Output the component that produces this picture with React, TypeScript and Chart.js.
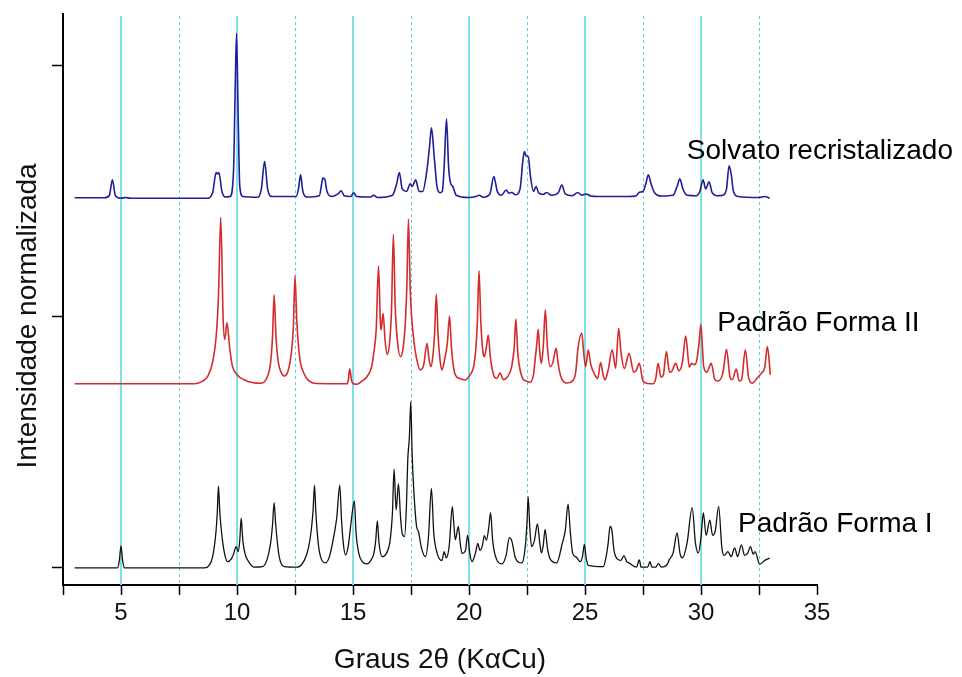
import React, { useEffect, useRef } from 'react';
import { Chart, registerables } from 'chart.js';

Chart.register(...registerables);

// ---- axis definitions ----
const X_MIN = 2.5;
const X_MAX = 35;
const xTickStep = 2.5;
const xLabeledTicks = [5, 10, 15, 20, 25, 30, 35];
const solidGridAt = [5, 10, 15, 20, 25, 30];
const dashedGridAt = [7.5, 12.5, 17.5, 22.5, 27.5, 32.5];
const Y_MIN = -6.8;
const Y_MAX = 220.7;
const yTicks = [0, 100, 200];

const xTitle = 'Graus 2θ (KαCu)';
const yTitle = 'Intensidade normalizada';
const seriesNames = ['Solvato recristalizado', 'Padrão Forma II', 'Padrão Forma I'];

// ---- series (2θ, stacked intensity) ----
const solvato: [number, number][] = [
  [3.0, 147.5], [4.3, 147.5], [4.5, 148.5], [4.63, 154.6], [4.76, 148.3], [5.0, 147.3], [5.2, 147.6], [5.4, 147.3],
  [8.7, 147.3], [8.95, 149.5], [9.1, 157.5], [9.16, 157], [9.22, 157.5], [9.35, 150], [9.5, 147.8], [9.7, 148],
  [9.85, 158], [9.92, 190], [9.98, 213], [10.05, 180], [10.12, 152], [10.25, 148], [10.9, 147.7], [11.05, 151],
  [11.19, 162], [11.32, 151], [11.5, 148], [12.55, 148], [12.65, 151], [12.74, 156.6], [12.84, 150], [13.0, 147.8],
  [13.55, 148.3], [13.65, 153], [13.7, 155.3], [13.78, 155], [13.88, 150], [14.1, 148], [14.35, 149], [14.49, 150.3],
  [14.62, 148.3], [14.9, 148], [15.03, 149.5], [15.15, 148], [15.75, 147.8], [15.9, 148.5], [16.05, 147.6],
  [16.7, 148.5], [16.88, 153], [17.0, 157.5], [17.12, 151], [17.3, 150], [17.47, 153], [17.55, 152], [17.7, 154.6],
  [17.85, 150], [18.0, 150], [18.18, 158], [18.3, 168], [18.38, 175.4], [18.5, 164], [18.62, 152], [18.75, 149.5],
  [18.85, 150], [18.93, 160], [19.03, 178.9], [19.12, 160], [19.2, 153.5], [19.3, 152], [19.45, 148.5], [20.0, 147.6],
  [20.3, 148], [20.44, 148.5], [20.6, 147.7], [20.9, 149], [21.07, 155.9], [21.22, 150], [21.4, 148.5], [21.6, 150.6],
  [21.72, 149.3], [21.85, 149.6], [22.0, 148.7], [22.2, 151], [22.33, 163], [22.39, 165.9], [22.47, 164], [22.55, 163.9],
  [22.65, 156], [22.78, 150], [22.89, 152], [23.0, 149.5], [23.2, 148.8], [23.35, 149.6], [23.55, 148.5], [23.85, 149.5],
  [24.0, 152.5], [24.15, 149], [24.45, 148.3], [24.69, 149.6], [24.85, 148.5], [25.04, 149], [25.25, 148.2], [25.56, 148],
  [26.85, 148], [27.2, 148.2], [27.34, 149.7], [27.5, 150], [27.62, 153], [27.73, 156.6], [27.85, 153], [28.0, 149.5],
  [28.3, 148.2], [28.8, 148.5], [28.97, 152], [29.09, 155], [29.22, 151], [29.4, 148.5], [29.8, 148.3], [29.95, 150],
  [30.09, 154.6], [30.2, 151], [30.35, 153.8], [30.48, 149.5], [30.7, 148.3], [30.95, 148.5], [31.1, 151], [31.21, 160.2],
  [31.3, 157], [31.4, 150], [31.6, 148], [32.5, 147.6], [32.75, 148], [32.96, 147.3],
];

const formaII: [number, number][] = [
  [3.0, 73.4], [8.2, 73.4], [8.5, 74.3], [8.75, 76.5], [8.95, 82], [9.1, 92], [9.2, 108], [9.3, 139.7], [9.4, 100],
  [9.47, 91], [9.57, 97.7], [9.68, 88], [9.8, 80.5], [10.0, 77], [10.3, 75], [10.7, 73.8], [11.0, 73.6], [11.3, 76],
  [11.45, 82], [11.53, 92], [11.6, 108.8], [11.68, 92], [11.78, 82], [11.9, 78], [12.03, 76.5], [12.2, 78.5],
  [12.34, 85.5], [12.43, 96], [12.5, 116.3], [12.58, 98], [12.7, 84], [12.88, 77.6], [13.1, 74.5], [13.4, 73.5],
  [14.75, 73.4], [14.8, 75], [14.86, 79.3], [14.93, 75], [15.0, 73.5], [15.18, 73.2], [15.4, 74.5], [15.6, 76.2],
  [15.8, 80], [15.9, 86], [16.0, 95], [16.1, 120.3], [16.18, 98], [16.21, 94.8], [16.3, 101.5], [16.38, 91],
  [16.47, 85], [16.58, 90], [16.66, 103], [16.74, 132.9], [16.82, 104], [16.92, 90], [17.04, 84.2], [17.15, 87],
  [17.25, 97], [17.32, 112], [17.39, 139], [17.47, 110], [17.62, 90.8], [17.75, 83], [17.9, 78.9], [18.05, 81],
  [18.19, 89.5], [18.28, 83], [18.36, 80.2], [18.45, 85], [18.52, 94], [18.59, 109], [18.67, 92], [18.75, 83],
  [18.83, 78.9], [18.95, 83], [19.07, 90], [19.16, 100.4], [19.25, 87], [19.41, 76.9], [19.6, 75.5], [19.84, 74.9],
  [20.05, 77], [20.2, 80.2], [20.3, 88], [20.36, 98], [20.43, 118.4], [20.51, 98], [20.6, 86], [20.66, 84.2],
  [20.75, 88], [20.83, 92.8], [20.92, 84], [21.06, 76.9], [21.2, 75.5], [21.34, 77.6], [21.48, 75], [21.65, 76],
  [21.84, 80.2], [21.95, 88], [22.02, 99.2], [22.1, 86], [22.28, 76.2], [22.45, 74.5], [22.63, 74], [22.78, 77],
  [22.85, 82.9], [22.93, 90], [22.98, 95.1], [23.05, 86], [23.12, 81.5], [23.2, 88], [23.29, 102.8], [23.38, 88],
  [23.5, 80.2], [23.62, 82], [23.75, 87.5], [23.85, 81], [23.96, 76.2], [24.21, 73.7], [24.5, 74.9], [24.6, 78],
  [24.69, 86.9], [24.86, 93.5], [24.95, 85], [25.03, 80.2], [25.14, 86.9], [25.25, 81], [25.43, 76.9], [25.55, 75.5],
  [25.67, 81.8], [25.78, 77], [25.86, 74.9], [26.0, 78.9], [26.17, 86.9], [26.32, 79.6], [26.45, 95.5], [26.55, 86],
  [26.7, 79.5], [26.9, 85.5], [27.1, 78], [27.2, 78.5], [27.34, 81.5], [27.5, 74.5], [27.7, 73.5], [27.94, 73.4],
  [28.05, 75.5], [28.15, 81.5], [28.28, 76], [28.38, 77], [28.51, 86.2], [28.64, 78], [28.75, 78.5], [28.91, 81.5],
  [29.05, 78.5], [29.2, 82], [29.34, 92.4], [29.5, 80], [29.6, 81.5], [29.7, 81], [29.8, 82], [29.92, 90],
  [29.99, 97.1], [30.12, 80], [30.25, 78], [30.44, 81.5], [30.6, 75], [30.75, 74.5], [30.95, 78], [31.1, 87.1],
  [31.25, 76], [31.35, 75], [31.52, 79.2], [31.65, 74.5], [31.75, 75], [31.91, 86.9], [32.05, 76], [32.2, 73.6],
  [32.45, 76], [32.6, 77.5], [32.75, 80], [32.86, 88.2], [32.99, 76.9],
];

const formaI: [number, number][] = [
  [3.0, 0], [4.85, 0], [4.93, 3], [5.0, 8.8], [5.07, 3], [5.15, 0], [8.6, 0], [8.8, 1], [8.95, 4.5], [9.09, 14],
  [9.15, 22], [9.2, 32.7], [9.26, 22], [9.37, 11.2], [9.48, 5], [9.59, 2.5], [9.75, 3.5], [9.85, 5.5], [9.96, 8.5],
  [10.05, 6.5], [10.12, 11], [10.18, 19.8], [10.25, 11], [10.35, 5.5], [10.5, 2.5], [10.74, 0.3], [11.1, 0.5],
  [11.3, 3.5], [11.45, 10], [11.53, 17], [11.6, 26], [11.67, 17], [11.81, 5], [12.03, 0.5], [12.6, 0.3], [12.9, 3],
  [13.08, 8], [13.2, 15], [13.28, 23], [13.34, 33], [13.4, 22], [13.5, 10], [13.6, 4.5], [13.82, 2], [14.0, 5],
  [14.17, 12.5], [14.3, 20], [14.43, 33], [14.5, 20], [14.58, 10], [14.68, 5.2], [14.8, 9], [14.92, 18.4],
  [15.06, 26.7], [15.13, 14], [15.25, 5.8], [15.4, 2.5], [15.61, 1.6], [15.8, 3.5], [15.9, 5.8], [15.98, 11],
  [16.05, 18.7], [16.12, 10], [16.26, 4.5], [16.45, 6], [16.6, 11], [16.7, 22], [16.77, 39.4], [16.86, 23.1],
  [16.96, 33.5], [17.05, 20], [17.12, 13.8], [17.22, 12.5], [17.3, 24], [17.36, 43], [17.43, 52], [17.49, 66.3],
  [17.55, 45], [17.62, 31], [17.74, 16.5], [17.82, 14.5], [17.95, 8], [18.12, 4.5], [18.25, 12], [18.38, 31.7],
  [18.48, 14], [18.63, 5.8], [18.83, 2.9], [18.93, 6.5], [19.02, 4], [19.15, 9], [19.28, 24.4], [19.35, 17],
  [19.41, 11.2], [19.54, 16.5], [19.62, 10], [19.7, 5.8], [19.85, 7], [19.94, 13.1], [20.03, 6], [20.13, 2.5],
  [20.28, 6], [20.38, 9.8], [20.47, 7], [20.58, 9], [20.66, 12.9], [20.75, 11], [20.85, 16], [20.93, 22],
  [21.02, 11], [21.13, 5], [21.42, 1.6], [21.6, 5], [21.74, 12.1], [21.85, 10.6], [22.0, 4], [22.28, 2], [22.42, 8],
  [22.5, 18], [22.55, 28.4], [22.62, 16], [22.7, 8.5], [22.82, 11], [22.95, 17.5], [23.05, 10], [23.12, 6], [23.2, 9],
  [23.28, 15.4], [23.38, 8], [23.5, 3.5], [23.78, 2], [24.02, 9.8], [24.15, 15], [24.27, 25.4], [24.37, 14],
  [24.47, 5.8], [24.6, 4.5], [24.81, 2.5], [24.9, 5], [24.97, 9.4], [25.05, 4], [25.14, 1], [25.79, 0.5], [25.92, 5],
  [26.0, 10], [26.08, 16.5], [26.16, 15], [26.25, 7], [26.4, 3.5], [26.55, 3], [26.68, 4.9], [26.8, 2.5], [26.9, 2],
  [27.22, 0.3], [27.34, 3.2], [27.42, 0.3], [27.7, 0.3], [27.8, 2.5], [27.88, 0.3], [28.05, 0.3], [28.16, 1.7],
  [28.3, 0.3], [28.55, 1.5], [28.63, 3.2], [28.8, 6], [28.97, 14], [29.1, 5.5], [29.2, 4], [29.4, 10], [29.62, 24],
  [29.76, 10], [29.88, 6], [30.0, 12], [30.1, 22], [30.22, 13], [30.38, 19], [30.5, 13], [30.62, 15], [30.76, 24.5],
  [30.9, 8], [31.0, 5], [31.16, 6.5], [31.3, 4.5], [31.45, 8], [31.58, 4.5], [31.74, 9.2], [31.88, 5], [32.02, 6],
  [32.13, 8.5], [32.25, 5.5], [32.33, 6.5], [32.53, 1.5], [32.75, 3], [32.96, 3.9],
];

// label anchors (left edge, text baseline) in data coordinates
const labelAnchors: [number, number][] = [
  [29.39, 162.9],
  [30.7, 94.4],
  [31.6, 14.5],
];
// y-title centre (data coordinates along the axis)
const yTitleCenter = 100.4;

const FONT = "'Liberation Sans', Arial, Helvetica, sans-serif";

const overlayPlugin = {
  id: 'overlay',
  beforeDatasetsDraw(chart: any) {
    const { ctx, chartArea, scales } = chart;
    const x = scales.x;
    ctx.save();
    ctx.strokeStyle = '#80e0e8';
    ctx.lineWidth = 2;
    ctx.setLineDash([]);
    solidGridAt.forEach((v) => {
      const px = Math.round(x.getPixelForValue(v));
      ctx.beginPath();
      ctx.moveTo(px, chartArea.top + 2);
      ctx.lineTo(px, chartArea.bottom);
      ctx.stroke();
    });
    ctx.strokeStyle = '#62cfe0';
    ctx.lineWidth = 1;
    ctx.setLineDash([3, 3]);
    dashedGridAt.forEach((v) => {
      const px = Math.round(x.getPixelForValue(v)) + 0.5;
      ctx.beginPath();
      ctx.moveTo(px, chartArea.top + 2);
      ctx.lineTo(px, chartArea.bottom);
      ctx.stroke();
    });
    ctx.restore();
  },
  afterDatasetsDraw(chart: any) {
    const { ctx, scales } = chart;
    ctx.save();
    ctx.fillStyle = '#000';
    ctx.font = `28px ${FONT}`;
    ctx.textBaseline = 'alphabetic';
    ctx.textAlign = 'left';
    seriesNames.forEach((name, i) => {
      const [lx, ly] = labelAnchors[i];
      ctx.fillText(name, scales.x.getPixelForValue(lx), scales.y.getPixelForValue(ly));
    });
    // y axis title
    ctx.translate(28, scales.y.getPixelForValue(yTitleCenter));
    ctx.rotate(-Math.PI / 2);
    ctx.textAlign = 'center';
    ctx.textBaseline = 'middle';
    ctx.fillStyle = '#111';
    ctx.fillText(yTitle, 0, 0);
    ctx.restore();
  },
};

export default function App() {
  const ref = useRef<HTMLCanvasElement | null>(null);

  useEffect(() => {
    if (!ref.current) return;
    const mk = (pts: [number, number][]) => pts.map(([x, y]) => ({ x, y }));
    const chart = new Chart(ref.current, {
      type: 'line',
      data: {
        datasets: [
          {
            label: seriesNames[0],
            data: mk(solvato),
            borderColor: '#1e1e96',
            borderWidth: 1.6,
            pointRadius: 0,
            cubicInterpolationMode: 'monotone',
          },
          {
            label: seriesNames[1],
            data: mk(formaII),
            borderColor: '#d42b2b',
            borderWidth: 1.6,
            pointRadius: 0,
            cubicInterpolationMode: 'monotone',
          },
          {
            label: seriesNames[2],
            data: mk(formaI),
            borderColor: '#111111',
            borderWidth: 1.3,
            pointRadius: 0,
            cubicInterpolationMode: 'monotone',
          },
        ],
      },
      options: {
        responsive: false,
        animation: false,
        parsing: false,
        normalized: true,
        layout: { padding: { left: 0, right: 145, top: 14, bottom: 0 } },
        plugins: {
          legend: { display: false },
          tooltip: { enabled: false },
        },
        scales: {
          x: {
            type: 'linear',
            min: X_MIN,
            max: X_MAX,
            afterBuildTicks: (scale: any) => {
              const t = [];
              for (let v = X_MIN; v <= X_MAX + 1e-9; v += xTickStep) t.push({ value: v });
              scale.ticks = t;
            },
            afterFit: (scale: any) => {
              scale.height = 92;
            },
            ticks: {
              autoSkip: false,
              maxRotation: 0,
              color: '#111',
              font: { family: FONT, size: 24 },
              padding: 4,
              callback: (v: any) => (xLabeledTicks.includes(Number(v)) ? String(v) : ''),
            },
            grid: {
              drawOnChartArea: false,
              drawTicks: true,
              tickLength: 10,
              tickColor: '#000',
              tickWidth: 1.5,
            },
            border: { display: true, color: '#000', width: 2 },
            title: {
              display: true,
              text: xTitle,
              color: '#111',
              font: { family: FONT, size: 28 },
              padding: { top: 0, bottom: 0 },
            },
          },
          y: {
            type: 'linear',
            min: Y_MIN,
            max: Y_MAX,
            afterBuildTicks: (scale: any) => {
              scale.ticks = yTicks.map((v) => ({ value: v }));
            },
            afterFit: (scale: any) => {
              scale.width = 63;
            },
            ticks: { display: false },
            grid: {
              drawOnChartArea: false,
              drawTicks: true,
              tickLength: 11,
              tickColor: '#000',
              tickWidth: 1.5,
            },
            border: { display: true, color: '#000', width: 2 },
            title: { display: false },
          },
        },
      },
      plugins: [overlayPlugin],
    });
    return () => chart.destroy();
  }, []);

  return (
    <div style={{ position: 'absolute', left: 0, top: 0, width: 962, height: 677, background: '#fff' }}>
      <canvas ref={ref} width={962} height={677} style={{ display: 'block' }} />
    </div>
  );
}
